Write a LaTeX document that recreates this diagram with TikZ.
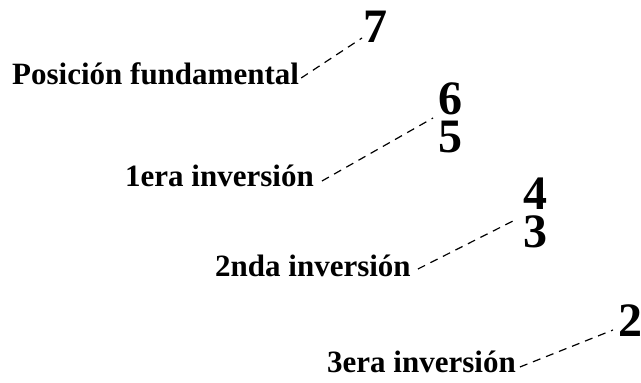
\documentclass[tikz,border=0pt]{standalone}
\usepackage{fontspec}
\setmainfont{Liberation Serif}
\usetikzlibrary{calc}
\tikzset{
	lbl/.style={anchor=base west, inner sep=0pt, font=\fontsize{31}{31}\selectfont\bfseries},
	num/.style={anchor=base west, inner sep=0pt, font=\fontsize{48}{38}\selectfont\bfseries},
	guide/.style={line width=1.2pt, dash pattern=on 8pt off 6pt}
}
\begin{document}
\begin{tikzpicture}[x=1pt, y=1pt]
	\useasboundingbox (0, 0) rectangle (641, 383);
	% Labels and chord tones:
	\node[lbl] (fund) at (12, 298){Posición fundamental};
	\node[num] (n7) at (363, 340){7};
	\node[lbl] (inv1) at (125, 196){1era inversión};
	\node[num, anchor=south west, align=left] (n65) at (438, 230){6\\5};
	\node[lbl] (inv2) at (215, 106){2nda inversión};
	\node[num, anchor=south west, align=left] (n43) at (523, 135){4\\3};
	\node[lbl] (inv3) at (327, 10){3era inversión};
	\node[num] (n2) at (618, 46){2};
	% Dashed guides:
	\draw[guide] ($(fund.base east)+(2, 7)$) -- ($(n7.base west)+(-1, 5)$);
	\draw[guide] ($(inv1.base east)+(8, 6)$) -- ($(n65.south west)+(-5, 35)$);
	\draw[guide] ($(inv2.base east)+(7, 8)$) -- ($(n43.south west)+(-10, 27)$);
	\draw[guide] ($(inv3.base east)+(4, 6)$) -- ($(n2.base west)+(-5, 7)$);
\end{tikzpicture}
\end{document}
